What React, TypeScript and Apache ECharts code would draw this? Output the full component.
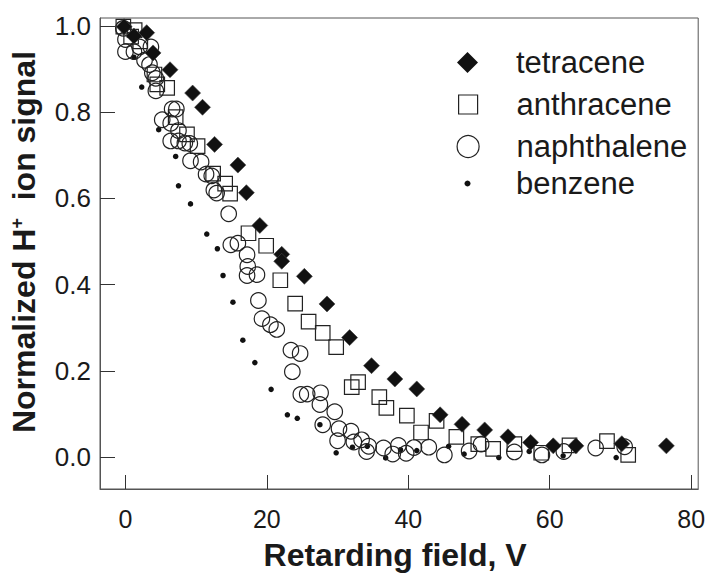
import React, { useEffect, useRef } from "react";
import * as echarts from "echarts";

// Retarding-field curves: [field (V), normalized H+ ion signal]
const tetracene: [number, number][] = [
  [-0.2, 0.998], [1.2, 0.976], [3.0, 0.984], [3.9, 0.937], [6.3, 0.898],
  [9.5, 0.844], [10.9, 0.811], [12.6, 0.725], [15.9, 0.677], [17.1, 0.613],
  [19.0, 0.537], [22.1, 0.47], [22.1, 0.454], [25.3, 0.419], [28.5, 0.355],
  [31.7, 0.277], [34.8, 0.212], [38.1, 0.181], [41.2, 0.158], [44.5, 0.098],
  [47.6, 0.076], [50.8, 0.063], [54.1, 0.047], [57.3, 0.034], [60.5, 0.026],
  [63.7, 0.026], [70.2, 0.031], [76.5, 0.026],
];

const anthracene: [number, number][] = [
  [-0.3, 0.998], [1.3, 0.99], [0.8, 0.975], [2.1, 0.964], [4.1, 0.887],
  [4.5, 0.864], [5.9, 0.856], [7.1, 0.788], [8.7, 0.748], [10.2, 0.721],
  [12.4, 0.657], [14.1, 0.634], [14.8, 0.611], [17.4, 0.519], [19.9, 0.49],
  [21.9, 0.41], [24.0, 0.356], [25.9, 0.314], [27.9, 0.288], [29.8, 0.255],
  [32.0, 0.162], [32.9, 0.174], [35.9, 0.139], [36.9, 0.114], [39.8, 0.096],
  [41.8, 0.057], [44.0, 0.084], [46.8, 0.047], [49.9, 0.03], [52.0, 0.019],
  [55.0, 0.03], [58.8, 0.01], [62.8, 0.027], [68.1, 0.037], [71.1, 0.005],
];

const naphthalene: [number, number][] = [
  [-0.3, 0.994], [0.0, 0.968], [0.0, 0.94], [1.2, 0.94], [2.0, 0.951],
  [3.6, 0.951], [2.7, 0.92], [3.4, 0.91], [3.8, 0.891], [4.3, 0.878],
  [4.3, 0.849], [6.6, 0.807], [7.2, 0.807], [5.2, 0.782], [6.4, 0.774],
  [6.4, 0.733], [7.5, 0.733], [7.5, 0.757], [8.4, 0.728], [9.1, 0.727],
  [9.2, 0.687], [10.7, 0.684], [11.4, 0.656], [12.2, 0.652], [12.5, 0.619],
  [12.9, 0.612], [14.6, 0.564], [14.9, 0.492], [15.9, 0.496], [17.2, 0.469],
  [17.3, 0.442], [17.2, 0.421], [18.6, 0.423], [18.8, 0.363], [19.3, 0.321],
  [20.5, 0.307], [21.4, 0.296], [23.4, 0.248], [24.7, 0.24], [23.6, 0.198],
  [24.8, 0.145], [25.7, 0.146], [27.6, 0.149], [27.5, 0.122], [29.6, 0.105],
  [27.9, 0.075], [30.2, 0.066], [30.0, 0.038], [31.9, 0.06], [32.3, 0.035],
  [33.4, 0.04], [34.4, 0.025], [34.1, 0.013], [36.5, 0.021], [37.8, 0.007],
  [38.6, 0.027], [39.7, 0.009], [40.8, 0.022], [42.9, 0.023], [45.1, 0.005],
  [48.6, 0.014], [50.3, 0.03], [55.0, 0.012], [58.9, 0.005], [62.0, 0.013],
  [66.5, 0.021], [70.6, 0.024],
];

const benzene: [number, number][] = [
  [0.0, 1.0], [1.2, 0.927], [2.3, 0.858], [4.7, 0.759], [7.1, 0.697],
  [7.5, 0.629], [9.2, 0.587], [11.5, 0.517], [13.0, 0.483], [13.8, 0.421],
  [15.2, 0.359], [16.6, 0.271], [18.3, 0.219], [20.6, 0.157], [22.9, 0.098],
  [24.3, 0.09], [27.5, 0.075], [29.8, 0.01], [32.1, 0.023], [34.2, 0.025],
  [36.8, -0.002], [38.9, 0.017], [41.2, 0.015], [45.7, 0.025], [47.9, 0.007],
  [52.8, -0.001], [57.1, 0.013], [61.9, 0.003], [69.4, -0.001],
];

const xTicks = [0, 20, 40, 60, 80];
const yTicks = [0, 0.2, 0.4, 0.6, 0.8, 1.0];

const FONT = "Liberation Sans, Arial, Helvetica, sans-serif";
const INK = "#1a1a1a";
const FRAME = "#555";

const openStyle = {
  color: "rgba(0,0,0,0)",
  borderColor: "#222",
  borderWidth: 1.2,
  opacity: 1,
};

// One legend block per compound so each marker keeps its own size;
// markers share a centre column and the names share a left edge.
const LEGEND_MARK_X = 467.5;
const LEGEND_TEXT_X = 516;
const legendRows = [
  { name: "tetracene", cy: 63, size: 21, border: 0 },
  { name: "anthracene", cy: 105, size: 19, border: 1.2 },
  { name: "naphthalene", cy: 147, size: 22, border: 1.2 },
  { name: "benzene", cy: 184, size: 6, border: 0 },
];

export default function App() {
  const ref = useRef<HTMLDivElement>(null);

  useEffect(() => {
    if (!ref.current) return;
    const chart = echarts.init(ref.current, null, { renderer: "svg" });

    const option: any = {
      animation: false,
      backgroundColor: "#fff",
      grid: {
        left: 97,
        right: 3,
        top: 18,
        bottom: 81,
        show: true,
        borderColor: FRAME,
        borderWidth: 1,
        backgroundColor: "rgba(0,0,0,0)",
      },
      legend: legendRows.map((r) => {
        const left = LEGEND_MARK_X - r.size / 2;
        const textPad = LEGEND_TEXT_X - (left + r.size + 5);
        return {
          data: [r.name],
          orient: "vertical",
          left,
          top: r.cy - 16,
          padding: 0,
          itemWidth: r.size,
          itemHeight: r.size,
          selectedMode: false,
          itemStyle: { borderWidth: r.border, opacity: 1 },
          textStyle: {
            fontSize: 31,
            fontFamily: FONT,
            color: INK,
            padding: [0, 0, 0, textPad],
          },
        };
      }),
      xAxis: {
        type: "value",
        min: -3.6,
        max: 81,
        name: "Retarding field, V",
        nameLocation: "middle",
        nameGap: 50,
        nameTextStyle: {
          fontSize: 32,
          fontWeight: "bold",
          fontFamily: FONT,
          color: INK,
          padding: [0, 8, 0, 0],
        },
        axisLine: {
          show: true,
          onZero: false,
          lineStyle: { color: FRAME, width: 1 },
        },
        axisTick: {
          show: true,
          inside: true,
          length: 14,
          customValues: xTicks,
          lineStyle: { color: "#333", width: 1 },
        },
        axisLabel: {
          customValues: xTicks,
          margin: 17,
          fontSize: 25,
          fontFamily: FONT,
          color: INK,
          formatter: (v: number) => String(v),
        },
        splitLine: { show: false },
      },
      yAxis: {
        type: "value",
        min: -0.074,
        max: 1.018,
        name: "Normalized H{sup|+}  ion signal",
        nameLocation: "middle",
        nameRotate: 90,
        nameGap: 60,
        nameTextStyle: {
          fontSize: 32,
          fontWeight: "bold",
          fontFamily: FONT,
          color: INK,
          padding: [0, 0, 0, 23],
          rich: {
            sup: {
              fontSize: 18,
              fontWeight: "bold",
              fontFamily: FONT,
              color: INK,
              verticalAlign: "top",
            },
          },
        },
        axisLine: {
          show: true,
          onZero: false,
          lineStyle: { color: FRAME, width: 1 },
        },
        axisTick: {
          show: true,
          inside: true,
          length: 15,
          customValues: yTicks,
          lineStyle: { color: "#333", width: 1 },
        },
        axisLabel: {
          customValues: yTicks,
          margin: 9,
          fontSize: 26,
          fontFamily: FONT,
          color: INK,
          formatter: (v: number) => v.toFixed(1),
        },
        splitLine: { show: false },
      },
      series: [
        {
          name: "benzene",
          type: "scatter",
          symbol: "circle",
          symbolSize: 5.5,
          itemStyle: { color: "#111", opacity: 1 },
          data: benzene,
        },
        {
          name: "naphthalene",
          type: "scatter",
          symbol: "circle",
          symbolSize: 15.5,
          itemStyle: openStyle,
          data: naphthalene,
        },
        {
          name: "anthracene",
          type: "scatter",
          symbol: "rect",
          symbolSize: 14.5,
          itemStyle: openStyle,
          data: anthracene,
        },
        {
          name: "tetracene",
          type: "scatter",
          symbol: "diamond",
          symbolSize: 16,
          itemStyle: {
            color: "#111",
            borderColor: "#444",
            borderWidth: 0.6,
            opacity: 1,
          },
          data: tetracene,
        },
      ],
    };

    chart.setOption(option);
    return () => chart.dispose();
  }, []);

  return (
    <div
      ref={ref}
      style={{
        position: "absolute",
        left: 0,
        top: 0,
        width: 708,
        height: 576,
        background: "#fff",
      }}
    />
  );
}
